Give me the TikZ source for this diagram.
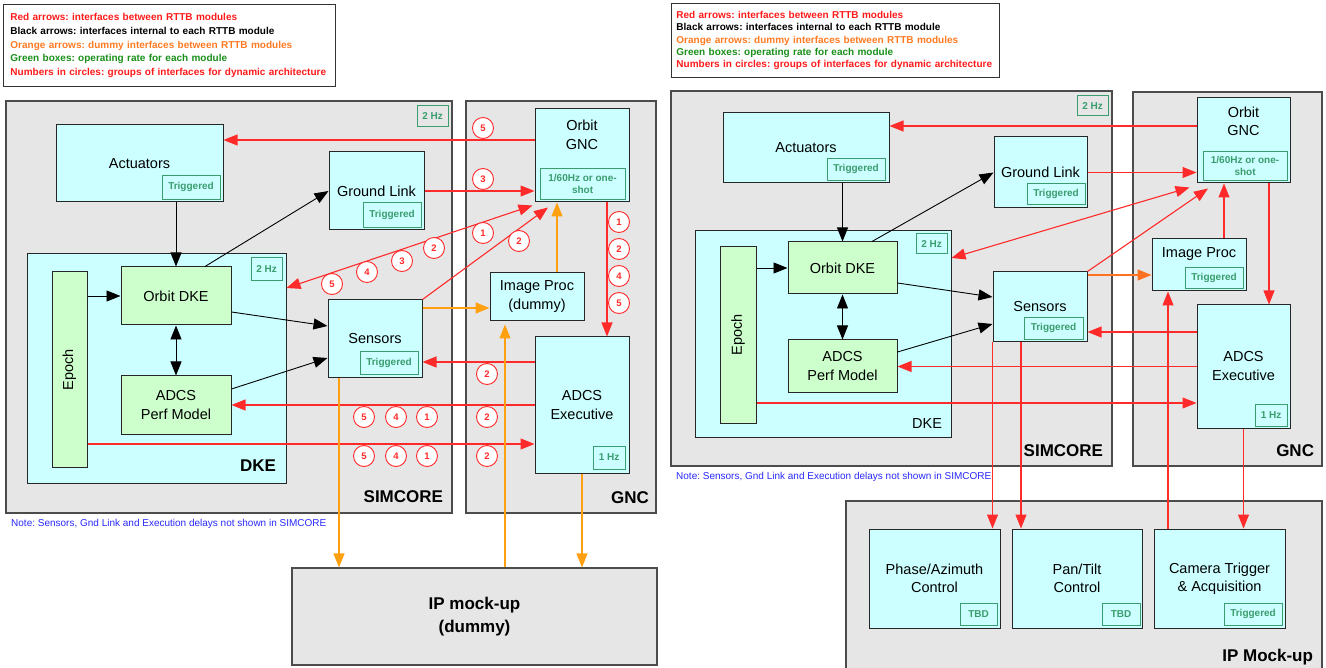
\documentclass[tikz,border=0pt]{standalone}
\usepackage{fontspec}
\setmainfont{Liberation Sans}
\usetikzlibrary{arrows.meta}
\usetikzlibrary{positioning}
\frenchspacing

\definecolor{areagray}{HTML}{E6E6E6}
\definecolor{modcyan}{HTML}{CCFFFF}
\definecolor{modgreen}{HTML}{CCFFCC}
\definecolor{rategreen}{HTML}{3A9D6E}
\definecolor{ifred}{HTML}{FF2A2A}
\definecolor{iforange}{HTML}{FFA010}
\definecolor{iforangeb}{HTML}{FF7020}
\definecolor{legred}{HTML}{FF1A1A}
\definecolor{legorange}{HTML}{FF7A22}
\definecolor{leggreen}{HTML}{1A8F1A}
\definecolor{noteblue}{HTML}{2828FF}

\newcommand{\modfont}{\fontsize{14.5}{19}\selectfont}
\newcommand{\ratefont}{\bfseries\fontsize{10}{12}\selectfont}
\newcommand{\grpfont}{\bfseries\fontsize{9.5}{11}\selectfont}
\newcommand{\lblfont}{\bfseries\fontsize{17}{23}\selectfont}
\newcommand{\legfont}{\bfseries\fontsize{10}{13.75}\selectfont}
\newcommand{\notefont}{\fontsize{10}{12}\selectfont}

\tikzset{
  area/.style={draw=black!70, fill=areagray, line width=1.1pt},
  module/.style={draw=black!85, fill=modcyan, line width=1pt, font=\modfont, align=center},
  dkemod/.style={module, fill=modgreen},
  rate/.style={draw=rategreen, text=rategreen, line width=0.9pt, font=\ratefont, inner sep=0pt, anchor=south east, align=center},
  grp/.style={circle, draw=ifred, fill=white, text=ifred, line width=0.9pt, minimum size=21pt, inner sep=0pt, font=\grpfont},
  blk/.style={->, draw=black, line width=0.9pt},
  redl/.style={->, draw=ifred, line width=1.1pt},
  orl/.style={->, draw=iforange, line width=1.3pt},
}

\begin{document}
\begin{tikzpicture}[x=1pt, y=-1pt, >={Triangle[length=14pt,width=11pt]}]
\useasboundingbox (0,0) rectangle (1326,668);

% ---------------- left diagram ----------------
\node[draw=black!80, line width=0.9pt, anchor=north west, minimum width=332, minimum height=82,
      text width=318, inner xsep=7, align=left, font=\legfont] (leg1) at (3,4)
  {\textcolor{legred}{Red arrows: interfaces between RTTB modules}\\
   Black arrows: interfaces internal to each RTTB module\\
   \textcolor{legorange}{Orange arrows: dummy interfaces between RTTB modules}\\
   \textcolor{leggreen}{Green boxes: operating rate for each module}\\
   \textcolor{legred}{Numbers in circles: groups of interfaces for dynamic architecture}};

\node[area, minimum width=446, minimum height=412] (simcore1) at (229,307) {};
\node[area, minimum width=190, minimum height=412] (gnc1) at (561,307) {};
\node[area, minimum width=365, minimum height=97, font=\lblfont, align=center] (mock1) at (474.5,616.5) {IP mock-up\\(dummy)};
\node[module, minimum width=259, minimum height=229] (dke1) at (156.5,368.5) {};

\node[module, minimum width=167, minimum height=77] (act1) at (139.5,163.5) {Actuators};
\node[module, minimum width=95, minimum height=78] (gl1) at (376.5,191) {Ground Link};
\node[dkemod, minimum width=35, minimum height=195] (epoch1) at (69.5,369.5) {};
\node[rotate=90, font=\modfont] (epochtxt1) at (epoch1) {Epoch};
\node[dkemod, minimum width=110, minimum height=58] (odke1) at (176,296) {Orbit DKE};
\node[dkemod, minimum width=110, minimum height=58] (adcs1) at (176,405) {ADCS\\Perf Model};
\node[module, minimum width=94, minimum height=78] (sens1) at (375,339) {Sensors};
\node[module, minimum width=94, minimum height=93] (ognc1) at (582,155.5) {};
\node[below=8pt of ognc1.north, align=center, font=\modfont] (ognctxt1) {Orbit\\GNC};
\node[module, minimum width=94, minimum height=48] (ip1) at (537,297) {Image Proc\\(dummy)};
\node[module, minimum width=94, minimum height=136] (exec1) at (582,405) {ADCS\\Executive};

% rates
\node[rate, anchor=north east, minimum width=31, minimum height=21] (simcore1r) at ([shift={(-4,5)}]simcore1.north east) {2 Hz};
\node[rate, anchor=north east, minimum width=31, minimum height=23] (dke1r) at ([shift={(-4,4)}]dke1.north east) {2 Hz};
\node[rate, minimum width=58, minimum height=24] (act1r) at ([shift={(-3,-3)}]act1.south east) {Triggered};
\node[rate, minimum width=58, minimum height=25] (gl1r) at ([shift={(-3,-3)}]gl1.south east) {Triggered};
\node[rate, minimum width=58, minimum height=23] (sens1r) at ([shift={(-4,-4)}]sens1.south east) {Triggered};
\node[rate, minimum width=85, minimum height=31] (ognc1r) at ([shift={(-4,-3)}]ognc1.south east) {1/60Hz or one-\\shot};
\node[rate, minimum width=32, minimum height=23] (exec1r) at ([shift={(-4,-4)}]exec1.south east) {1 Hz};

% area labels
\node[anchor=base east, font=\lblfont] (simcore1l) at ([shift={(-6,-11)}]simcore1.south east) {SIMCORE};
\node[anchor=base east, font=\lblfont] (dke1l) at ([shift={(-7,-12)}]dke1.south east) {DKE};
\node[anchor=base east, font=\lblfont] (gnc1l) at ([shift={(-4,-10)}]gnc1.south east) {GNC};
\node[anchor=west, font=\notefont, text=noteblue, inner sep=0pt] (note1) at (11,524) {Note: Sensors, Gnd Link and Execution delays not shown in SIMCORE};

% black arrows
\path (odke1.north |- act1.south) edge[blk] (odke1.north);
\path ([xshift=29]odke1.north) edge[blk] (gl1.west);
\path (epoch1.east |- odke1.west) edge[blk] (odke1.west);
\path (odke1.south) edge[blk, <->] (adcs1.north);
\path ([yshift=-16]odke1.east) edge[blk] ([yshift=13]sens1.west);
\path ([yshift=16]adcs1.east) edge[blk] ([yshift=-19]sens1.west);

% red arrows
\path ([yshift=15.5]ognc1.west) edge[redl] ([yshift=23.5]act1.east);
\path (gl1.east) edge[redl] (gl1.east -| ognc1.west);
\path ([yshift=80.5]dke1.east) edge[redl, <->] ([shift={(-2,3)}]ognc1.south west);
\path (sens1.north east) edge[redl] ([shift={(-34,5)}]ognc1.south);
\path ([xshift=25]ognc1.south) edge[redl] ([xshift=25]exec1.north);
\path ([yshift=43]exec1.west) edge[redl] ([yshift=-23]sens1.east);
\path (exec1.west) edge[redl] (adcs1.east);
\path ([yshift=-74.5]epoch1.east) edge[redl] ([yshift=-39]exec1.west);

% orange arrows
\path ([yshift=31]sens1.east) edge[orl] ([yshift=-11]ip1.west);
\path ([xshift=20]ip1.north) edge[orl] ([xshift=-25]ognc1.south);
\path ([xshift=-36]sens1.south) edge[orl] ([xshift=-36]sens1.south |- mock1.north);
\path ([xshift=30.5]mock1.north) edge[orl] ([shift={(-32,3)}]ip1.south);
\path (exec1.south) edge[orl] (exec1.south |- mock1.north);

% groups
\foreach \n/\x/\y in {5/483/128, 3/483/179, 1/483/233, 2/519/241, 2/434/248, 3/402/261, 4/367/272, 5/332/284,
                      1/619/222, 2/619/249, 4/619/276, 5/619/303, 2/487/374,
                      5/364/417, 4/396/417, 1/427/417, 2/487/417, 5/364/456, 4/396/456, 1/427/456, 2/487/456}
  \node[grp] (g\x-\y) at (\x,\y) {\n};

% ---------------- right diagram ----------------
\node[draw=black!80, line width=0.9pt, anchor=north west, minimum width=328, minimum height=74,
      text width=318, inner xsep=5, align=left, font=\bfseries\fontsize{10}{12.25}\selectfont] (leg2) at (671,3)
  {\textcolor{legred}{Red arrows: interfaces between RTTB modules}\\
   Black arrows: interfaces internal to each RTTB module\\
   \textcolor{legorange}{Orange arrows: dummy interfaces between RTTB modules}\\
   \textcolor{leggreen}{Green boxes: operating rate for each module}\\
   \textcolor{legred}{Numbers in circles: groups of interfaces for dynamic architecture}};

\node[area, minimum width=441, minimum height=375] (simcore2) at (891.5,278.5) {};
\node[area, minimum width=189, minimum height=374] (gnc2) at (1227.5,279) {};
\node[area, minimum width=476, minimum height=170] (mock2) at (1084,586) {};
\node[module, minimum width=256, minimum height=206] (dke2) at (823,334) {};

\node[module, minimum width=166, minimum height=70] (act2) at (806,148) {Actuators};
\node[module, minimum width=93, minimum height=71] (gl2) at (1040.5,172.5) {Ground Link};
\node[dkemod, minimum width=36, minimum height=176] (epoch2) at (738,335) {};
\node[rotate=90, font=\modfont] (epochtxt2) at (epoch2) {Epoch};
\node[dkemod, minimum width=109, minimum height=52] (odke2) at (842.5,268) {Orbit DKE};
\node[dkemod, minimum width=109, minimum height=53] (adcs2) at (842.5,366.5) {ADCS\\Perf Model};
\node[module, minimum width=94, minimum height=70] (sens2) at (1040,307) {Sensors};
\node[module, minimum width=93, minimum height=85] (ognc2) at (1243.5,140.5) {};
\node[below=5.5pt of ognc2.north, align=center, font=\fontsize{14.5}{18}\selectfont] (ognctxt2) {Orbit\\GNC};
\node[module, minimum width=94, minimum height=52] (ip2) at (1199,265) {};
\node[below=5.5pt of ip2.north, font=\modfont] (iptxt2) {Image Proc};
\node[module, minimum width=93, minimum height=123] (exec2) at (1243.5,366.5) {ADCS\\Executive};
\node[module, minimum width=131, minimum height=99, font=\fontsize{14.5}{18}\selectfont] (pa2) at (934.5,578.5) {Phase/Azimuth\\Control};
\node[module, minimum width=130, minimum height=99, font=\fontsize{14.5}{18}\selectfont] (pt2) at (1077,578.5) {Pan/Tilt\\Control};
\node[module, minimum width=131, minimum height=99, font=\fontsize{14.5}{18}\selectfont] (cam2) at (1219.5,578.5) {Camera Trigger\\\& Acquisition};

% rates
\node[rate, anchor=north east, minimum width=31, minimum height=20] (simcore2r) at ([shift={(-4,5)}]simcore2.north east) {2 Hz};
\node[rate, anchor=north east, minimum width=31, minimum height=20] (dke2r) at ([shift={(-4,3)}]dke2.north east) {2 Hz};
\node[rate, minimum width=58, minimum height=22] (act2r) at ([shift={(-4,-3)}]act2.south east) {Triggered};
\node[rate, minimum width=58, minimum height=21] (gl2r) at ([shift={(-2,-4)}]gl2.south east) {Triggered};
\node[rate, minimum width=59, minimum height=22] (sens2r) at ([shift={(-4,-3)}]sens2.south east) {Triggered};
\node[rate, minimum width=84, minimum height=29] (ognc2r) at ([shift={(-3,-3)}]ognc2.south east) {1/60Hz or one-\\shot};
\node[rate, minimum width=58, minimum height=21] (ip2r) at ([shift={(-3,-3)}]ip2.south east) {Triggered};
\node[rate, minimum width=32, minimum height=22] (exec2r) at ([shift={(-3,-2)}]exec2.south east) {1 Hz};
\node[rate, minimum width=37, minimum height=22] (pa2r) at ([shift={(-3,-3)}]pa2.south east) {TBD};
\node[rate, minimum width=38, minimum height=22] (pt2r) at ([shift={(-2,-3)}]pt2.south east) {TBD};
\node[rate, minimum width=58, minimum height=22] (cam2r) at ([shift={(-3,-3)}]cam2.south east) {Triggered};

% area labels
\node[anchor=base east, font=\lblfont] (simcore2l) at ([shift={(-6,-10)}]simcore2.south east) {SIMCORE};
\node[anchor=base east, font=\modfont] (dke2l) at ([shift={(-6,-9)}]dke2.south east) {DKE};
\node[anchor=base east, font=\lblfont] (gnc2l) at ([shift={(-5,-10)}]gnc2.south east) {GNC};
\node[anchor=base east, font=\lblfont] (mock2l) at ([shift={(-6,-10)}]mock2.south east) {IP Mock-up};
\node[anchor=west, font=\notefont, text=noteblue, inner sep=0pt] (note2) at (676,477) {Note: Sensors, Gnd Link and Execution delays not shown in SIMCORE};

% black arrows
\path (odke2.north |- act2.south) edge[blk] (odke2.north);
\path ([xshift=29.5]odke2.north) edge[blk] (gl2.west);
\path (epoch2.east |- odke2.west) edge[blk] (odke2.west);
\path (odke2.south) edge[blk, <->] (adcs2.north);
\path ([yshift=-15]odke2.east) edge[blk] ([yshift=10]sens2.west);
\path ([yshift=14.5]adcs2.east) edge[blk] ([yshift=-17]sens2.west);

% red arrows
\path ([yshift=14.5]ognc2.west) edge[redl] ([yshift=22]act2.east);
\path (gl2.east) edge[redl] (gl2.east -| ognc2.west);
\path ([yshift=76]dke2.east) edge[redl, <->] ([shift={(-7,4)}]ognc2.south west);
\path (sens2.north east) edge[redl] ([shift={(-35.5,5)}]ognc2.south);
\path ([xshift=25.5]ognc2.south) edge[redl] ([xshift=25.5]exec2.north);
\path ([xshift=25]ip2.north) edge[redl] ([xshift=-19.5]ognc2.south);
\path ([yshift=34.5]exec2.west) edge[redl] ([yshift=-25]sens2.east);
\path (exec2.west) edge[redl] (adcs2.east);
\path ([yshift=-68]epoch2.east) edge[redl] ([yshift=-36.5]exec2.west);
\path ([xshift=-51.5]cam2.north) edge[redl] ([xshift=-31]ip2.south);
\path (exec2.south) edge[redl] (exec2.south |- cam2.north);
\path (sens2.south west) edge[redl] (sens2.south west |- pa2.north);
\path ([xshift=-19]sens2.south) edge[redl] ([xshift=-19]sens2.south |- pt2.north);

% orange arrow
\path ([yshift=32]sens2.east) edge[orl, draw=iforangeb] ([yshift=-10]ip2.west);

\end{tikzpicture}
\end{document}
